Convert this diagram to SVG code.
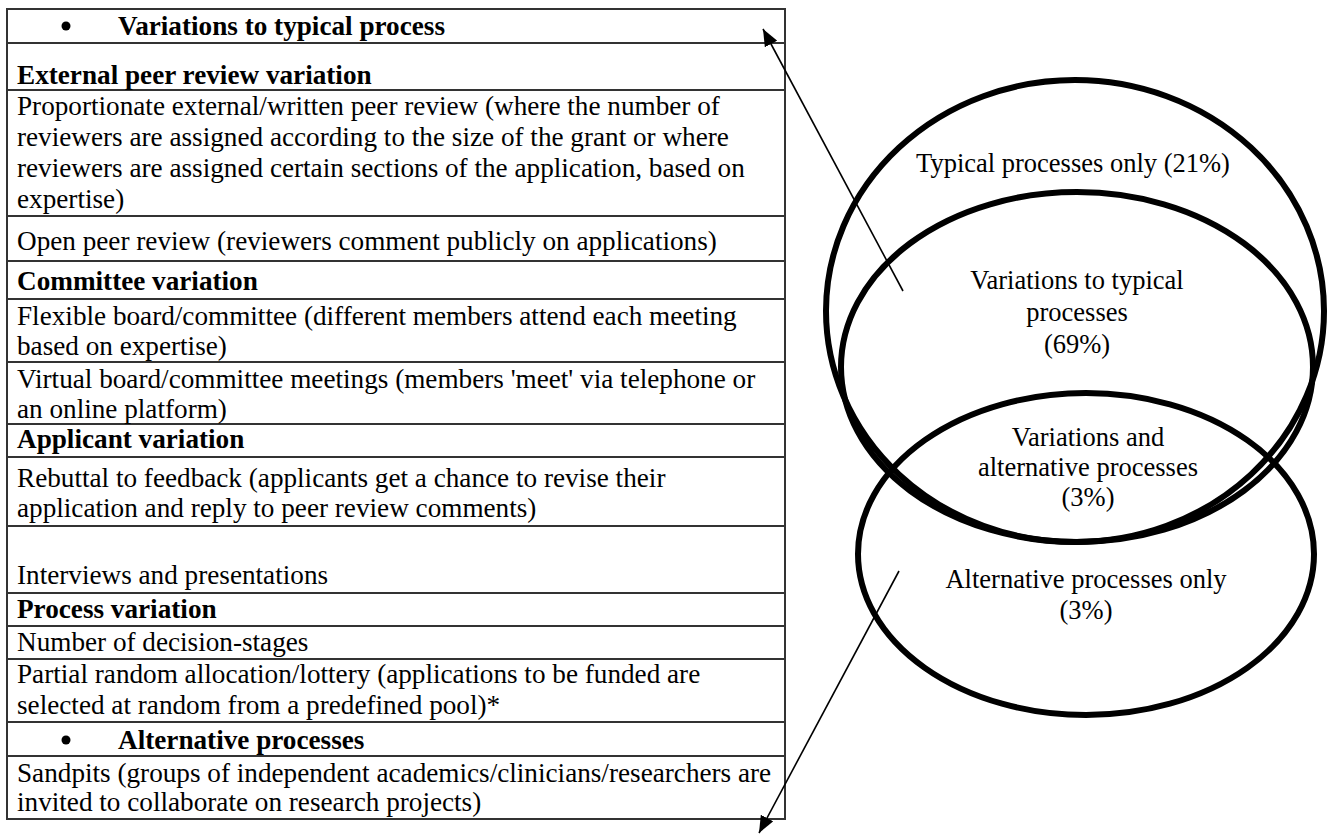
<svg xmlns="http://www.w3.org/2000/svg" width="1333" height="837" viewBox="0 0 1333 837">
<defs>
<style>
.t{font-family:"Liberation Serif","Times New Roman",serif;font-size:27.2px;fill:#000}
.b{font-weight:bold}
.e{font-family:"Liberation Serif","Times New Roman",serif;font-size:26.5px;fill:#000;text-anchor:middle}
.rl{stroke:#333;stroke-width:2;fill:none}
.ell{fill:none;stroke:#000;stroke-width:6}
.conn{stroke:#000;stroke-width:1.6;fill:none}
</style>
<marker id="ah" viewBox="0 0 17 14" refX="17" refY="7" markerWidth="17" markerHeight="14" orient="auto" markerUnits="userSpaceOnUse"><path d="M0,0 L17,7 L0,14 z" fill="#000"/></marker>
</defs>
<rect width="1333" height="837" fill="#fff"/>
<g id="table">
<rect x="7" y="9" width="778" height="810" class="rl"/>
<path class="rl" d="M7,43H785M7,90H785M7,216H785M7,261H785M7,299H785M7,362H785M7,424H785M7,457H785M7,526H785M7,593H785M7,626H785M7,659H785M7,722H785M7,756H785"/>
<circle cx="66" cy="26" r="4.5" fill="#000"/>
<text class="t b" x="118" y="35">Variations to typical process</text>
<text class="t b" x="17" y="84">External peer review variation</text>
<text class="t" x="17" y="115">Proportionate external/written peer review (where the number of</text>
<text class="t" x="17" y="146">reviewers are assigned according to the size of the grant or where</text>
<text class="t" x="17" y="177">reviewers are assigned certain sections of the application, based on</text>
<text class="t" x="17" y="208">expertise)</text>
<text class="t" x="17" y="250">Open peer review (reviewers comment publicly on applications)</text>
<text class="t b" x="17" y="290">Committee variation</text>
<text class="t" x="17" y="325">Flexible board/committee (different members attend each meeting</text>
<text class="t" x="17" y="355">based on expertise)</text>
<text class="t" x="17" y="388">Virtual board/committee meetings (members 'meet' via telephone or</text>
<text class="t" x="17" y="418">an online platform)</text>
<text class="t b" x="17" y="448">Applicant variation</text>
<text class="t" x="17" y="487">Rebuttal to feedback (applicants get a chance to revise their</text>
<text class="t" x="17" y="517">application and reply to peer review comments)</text>
<text class="t" x="17" y="584">Interviews and presentations</text>
<text class="t b" x="17" y="618">Process variation</text>
<text class="t" x="17" y="651">Number of decision-stages</text>
<text class="t" x="17" y="683">Partial random allocation/lottery (applications to be funded are</text>
<text class="t" x="17" y="714">selected at random from a predefined pool)*</text>
<circle cx="66" cy="740" r="4.5" fill="#000"/>
<text class="t b" x="118" y="749">Alternative processes</text>
<text class="t" x="17" y="782">Sandpits (groups of independent academics/clinicians/researchers are</text>
<text class="t" x="17" y="811">invited to collaborate on research projects)</text>
</g>
<g id="typical">
<ellipse class="ell" cx="1075" cy="311" rx="249" ry="231"/>
<text class="e" x="1073" y="172">Typical processes only (21%)</text>
</g>
<g id="variations">
<ellipse class="ell" cx="1077" cy="367" rx="236" ry="175"/>
<text class="e" x="1077" y="289">Variations to typical</text>
<text class="e" x="1077" y="321">processes</text>
<text class="e" x="1077" y="353">(69%)</text>
</g>
<g id="alternative">
<ellipse class="ell" cx="1086" cy="554" rx="228" ry="161"/>
<text class="e" x="1086" y="588">Alternative processes only</text>
<text class="e" x="1086" y="619">(3%)</text>
</g>
<g id="overlap">
<text class="e" x="1088" y="446">Variations and</text>
<text class="e" x="1088" y="476">alternative processes</text>
<text class="e" x="1088" y="506">(3%)</text>
</g>
<g id="connectors">
<line class="conn" x1="903" y1="291" x2="763" y2="29" marker-end="url(#ah)"/>
<line class="conn" x1="899" y1="571" x2="759" y2="833" marker-end="url(#ah)"/>
</g>
</svg>
